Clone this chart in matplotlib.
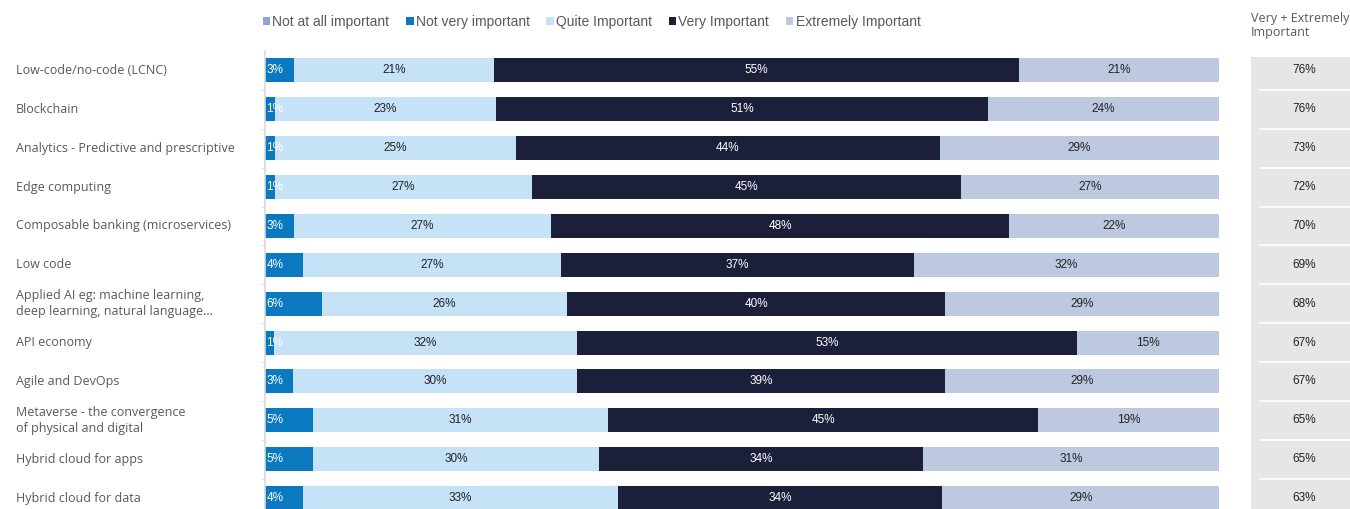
import numpy as np
import matplotlib.pyplot as plt
from matplotlib.patches import Patch

# Datos de la encuesta: importancia de cada tecnologia
categorias = [
    "Low-code/no-code (LCNC)",
    "Blockchain",
    "Analytics - Predictive and prescriptive",
    "Edge computing",
    "Composable banking (microservices)",
    "Low code",
    "Applied AI eg: machine learning,\ndeep learning, natural language...",
    "API economy",
    "Agile and DevOps",
    "Metaverse - the convergence\nof physical and digital",
    "Hybrid cloud for apps",
    "Hybrid cloud for data",
]
nada_importante = [0, 0, 0, 0, 0, 0, 0, 0, 0, 0, 0, 0]
poco_importante = [3, 1, 1, 1, 3, 4, 6, 1, 3, 5, 5, 4]
bastante_importante = [21, 23, 25, 27, 27, 27, 26, 32, 30, 31, 30, 33]
muy_importante = [55, 51, 44, 45, 48, 37, 40, 53, 39, 45, 34, 34]
extremadamente_importante = [21, 24, 29, 27, 22, 32, 29, 15, 29, 19, 31, 29]
muy_mas_extremo = [76, 76, 73, 72, 70, 69, 68, 67, 67, 65, 65, 63]

series = ["Not at all important", "Not very important", "Quite Important",
          "Very Important", "Extremely Important"]
colores = ["#8FA6CF", "#0A79BF", "#C5E2F7", "#1B1F3A", "#BDC9E1"]
color_texto = [None, "white", "#222222", "white", "#222222"]

datos = np.array([nada_importante, poco_importante, bastante_importante,
                  muy_importante, extremadamente_importante], dtype=float)
# Barras apiladas al 100%
porcentajes = datos / datos.sum(axis=0) * 100

W, H = 1350, 509
fig = plt.figure(figsize=(W / 100, H / 100), dpi=100)

y = np.arange(len(categorias))
ax = fig.add_axes([265 / W, -8.5 / H, 954 / W, 466.5 / H])
izquierda = np.zeros(len(categorias))
for k in range(len(series)):
    ax.barh(y, porcentajes[k], left=izquierda, height=0.62, color=colores[k],
            edgecolor="none", label=series[k])
    for i in range(len(categorias)):
        valor = datos[k, i]
        if valor <= 0:
            continue
        texto = f"{int(valor)}%"
        if k == 1:
            ax.text(izquierda[i] + 0.15, y[i], texto, ha="left", va="center",
                    color=color_texto[k], fontsize=8.5, family="Liberation Sans")
        else:
            ax.text(izquierda[i] + porcentajes[k, i] / 2, y[i], texto, ha="center",
                    va="center", color=color_texto[k], fontsize=8.5,
                    family="Liberation Sans")
    izquierda += porcentajes[k]

ax.set_xlim(0, 100)
ax.set_ylim(len(categorias) - 0.5, -0.5)
ax.set_xticks([])
ax.set_yticks([])
ax.set_yticks(np.arange(len(categorias)) + 0.5, minor=True)
ax.tick_params(axis="y", which="minor", length=3, color="#D9D9D9", direction="out")
for lado in ["top", "right", "bottom"]:
    ax.spines[lado].set_visible(False)
ax.spines["left"].set_color("#D9D9D9")
ax.spines["left"].set_linewidth(1.2)

# Etiquetas de categoria a la izquierda
for i, cat in enumerate(categorias):
    ax.text(-249 / 954 * 100, y[i], cat, ha="left", va="center", fontsize=9,
            color="#595959", family="Open Sans", linespacing=1.35)

# Columna de totales Very + Extremely
ax2 = fig.add_axes([1251 / W, -8.5 / H, 99 / W, 460.5 / H])
ax2.set_xlim(0, 1)
ax2.set_ylim(len(categorias) - 0.5, len(categorias) - 0.5 - 460.5 / 38.875)
ax2.set_facecolor("#E6E6E6")
for s in ax2.spines.values():
    s.set_visible(False)
ax2.set_xticks([])
ax2.set_yticks([])
for i in range(len(categorias)):
    ax2.text(0.54, y[i], f"{muy_mas_extremo[i]}%", ha="center", va="center",
             fontsize=8.5, color="#222222", family="Liberation Sans")
    if i < len(categorias) - 1:
        ax2.plot([0.09, 1], [i + 0.5, i + 0.5], color="white", lw=1.2)

fig.text(1251 / W, 1 - 12 / H, "Very + Extremely\nImportant", ha="left", va="top",
         fontsize=9, color="#595959", family="Open Sans", linespacing=1.1)

# Leyenda
handles = [Patch(facecolor=c, edgecolor="none") for c in colores]
leg = fig.legend(handles, series, loc="center left",
                 bbox_to_anchor=(250 / W, 1 - 22 / H), ncol=5, frameon=False,
                 handlelength=0.55, handleheight=0.55, handletextpad=0.15,
                 columnspacing=1.2, prop={"family": "Liberation Sans", "size": 10})
for t in leg.get_texts():
    t.set_color("#595959")

fig.savefig("out.png", dpi=100)
